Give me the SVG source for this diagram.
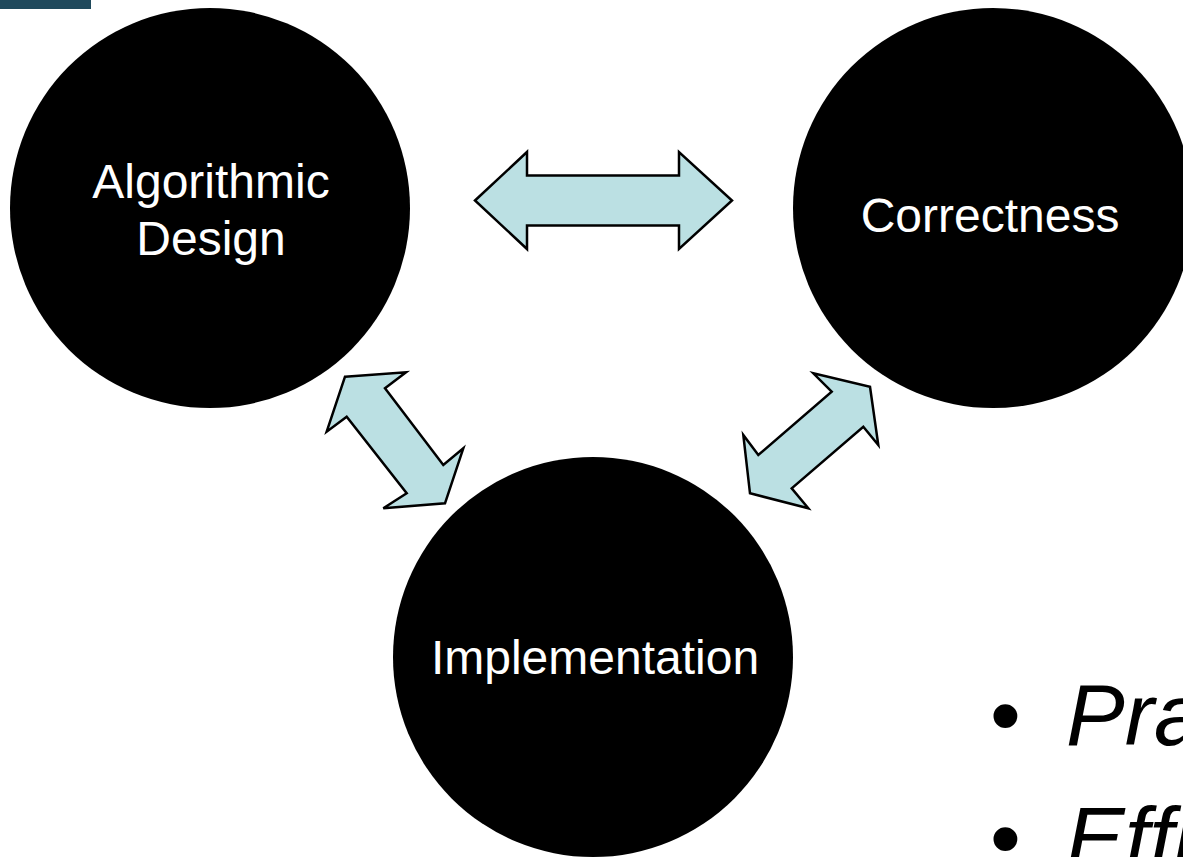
<svg xmlns="http://www.w3.org/2000/svg" width="1183" height="857" viewBox="0 0 1183 857">
  <style>
    .node { fill: #000000; }
    .label { fill: #ffffff; font-family: "Liberation Sans", Arial, sans-serif; font-size: 48px; text-anchor: middle; }
    .link { fill: #bbe0e3; stroke: #000000; stroke-width: 2.5; stroke-linejoin: miter; }
    .bullet { fill: #000000; font-family: "Liberation Sans", Arial, sans-serif; font-size: 88px; font-style: italic; }
    .dot { fill: #000000; font-family: "Liberation Sans", Arial, sans-serif; font-size: 88px; }
  </style>
  <rect width="1183" height="857" fill="#ffffff"/>
  <!-- header accent bar -->
  <rect x="0" y="0" width="91" height="9" fill="#1f495c"/>

  <g id="node-algorithmic-design">
    <circle class="node" cx="210" cy="208" r="200"/>
    <text class="label" x="211" y="198">Algorithmic</text>
    <text class="label" x="211" y="255">Design</text>
  </g>

  <g id="node-correctness">
    <circle class="node" cx="993" cy="208" r="200"/>
    <text class="label" x="990" y="232">Correctness</text>
  </g>

  <g id="node-implementation">
    <circle class="node" cx="593" cy="657" r="200"/>
    <text class="label" x="595" y="674">Implementation</text>
  </g>

  <g id="connectors">
    <polygon class="link" points="475,200.5 527,152 527,175.5 679,175.5 679,152 732,200.5 679,249 679,225.5 527,225.5 527,249"/>
    <polygon class="link" points="345,376.7 406,372.3 385,388.3 443.3,465 463.3,448.3 445,503.3 383.3,508.3 406.7,493.3 346.7,416.7 326.7,431.7"/>
    <polygon class="link" points="870,386.7 878.3,445 863.3,426.7 791.7,488.3 808.3,508.3 750,493.3 743.3,435 758.3,455 831.7,391.7 813.3,373.3"/>
  </g>

  <g id="bullets">
    <text class="dot" x="990" y="745">•</text>
    <text class="bullet" x="1066" y="745">Pra</text>
    <text class="dot" x="990" y="868">•</text>
    <text class="bullet" x="1066" y="868">Effi</text>
  </g>
</svg>
